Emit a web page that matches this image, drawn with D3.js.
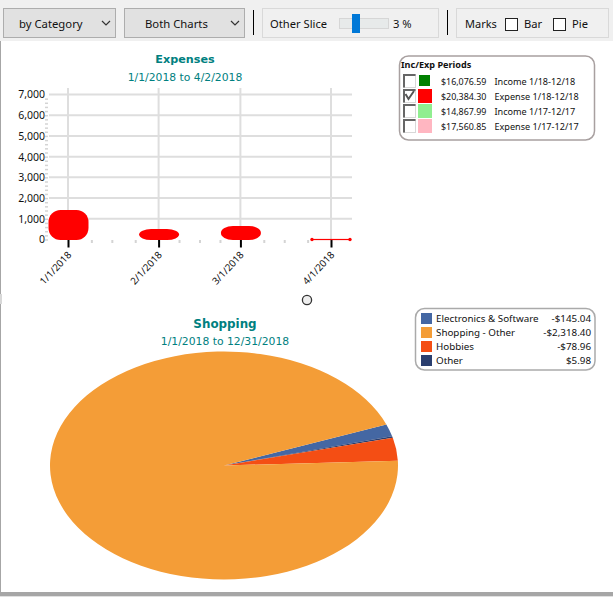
<!DOCTYPE html>
<html>
<head>
<meta charset="utf-8">
<script src="https://cdn.jsdelivr.net/npm/d3@7"></script>
<style>
  html, body { margin: 0; padding: 0; background: #fff; overflow: hidden; }
  svg { display: block; }
  text { font-family: "Noto Sans", sans-serif; fill: #111; }
  .title { font-family: "DejaVu Sans", sans-serif; fill: #008080; text-anchor: middle; }
</style>
</head>
<body>
<svg id="chart" width="613" height="597"></svg>
<script>
// bar chart
const barDates = ["2018-01-01", "2018-02-01", "2018-03-01", "2018-04-01"];
const barLabels = ["1/1/2018", "2/1/2018", "3/1/2018", "4/1/2018"];
const barValues = [1425, 505, 650, 25];
const yTicks = [0, 1000, 2000, 3000, 4000, 5000, 6000, 7000];
const xMinorDates = ["2018-01-09", "2018-01-16", "2018-01-24", "2018-02-08", "2018-02-15", "2018-02-22",
                     "2018-03-09", "2018-03-16", "2018-03-24"];

// pie, the slice sizes are what the picture shows, the amounts are the legend text
const categories = ["Electronics & Software", "Shopping - Other", "Hobbies", "Other"];
const categoryAmounts = ["-$145.04", "-$2,318.40", "-$78.96", "$5.98"];
const categoryColors = ["#4467a3", "#f49d37", "#f44e14", "#2a3e6e"];
const sliceValues = [42, 2318.4, 78.96, 5.98];
const sliceOrder = [0, 3, 2, 1];

// periods legend
const periodAmounts = ["$16,076.59", "$20,384.30", "$14,867.99", "$17,560.85"];
const periodLabels = ["Income 1/18-12/18", "Expense 1/18-12/18", "Income 1/17-12/17", "Expense 1/17-12/17"];
const periodColors = ["green", "red", "lightgreen", "lightpink"];
const periodChecked = [false, true, false, false];

const svg = d3.select("#chart");
const parseDay = d3.timeParse("%Y-%m-%d");

// fenster und toolbar
svg.append("rect").attr("x", 0).attr("y", 0).attr("width", 613).attr("height", 41).attr("fill", "#f0f0f0");
svg.append("rect").attr("x", 0).attr("y", 41).attr("width", 1).attr("height", 551).attr("fill", "#a6a6a6");
svg.append("rect").attr("x", 0).attr("y", 592).attr("width", 613).attr("height", 4).attr("fill", "#a6a6a6");
svg.append("rect").attr("x", 0).attr("y", 596).attr("width", 613).attr("height", 1).attr("fill", "#e0e0e0");

function combo(x, w, label, textX) {
  svg.append("rect").attr("x", x + 0.5).attr("y", 8.5).attr("width", w).attr("height", 29)
    .attr("fill", "#e1e1e1").attr("stroke", "#adadad");
  svg.append("text").attr("x", textX).attr("y", 28).attr("font-size", 11.3).text(label);
  const cx = x + w - 9;
  svg.append("path").attr("d", `M${cx - 4},21 L${cx},25 L${cx + 4},21`)
    .attr("fill", "none").attr("stroke", "#333").attr("stroke-width", 1.2);
}
function panel(x, w) {
  svg.append("rect").attr("x", x + 0.5).attr("y", 8.5).attr("width", w).attr("height", 29)
    .attr("fill", "#f0f0f0").attr("stroke", "#d9d9d9");
}
function separator(x) {
  svg.append("line").attr("x1", x).attr("x2", x).attr("y1", 10).attr("y2", 35).attr("stroke", "#000");
}
function checkbox(x, label, textX) {
  svg.append("rect").attr("x", x + 0.5).attr("y", 18.5).attr("width", 12).attr("height", 12)
    .attr("fill", "#fff").attr("stroke", "#222");
  svg.append("text").attr("x", textX).attr("y", 28).attr("font-size", 11.2).text(label);
}
combo(3, 112, "by Category", 19);
combo(124, 120, "Both Charts", 145);
separator(253.5);
panel(262, 176);
svg.append("text").attr("x", 270).attr("y", 28).attr("font-size", 11.2).text("Other Slice");
svg.append("rect").attr("x", 339.5).attr("y", 18.5).attr("width", 49).attr("height", 10)
  .attr("fill", "#e7eaea").attr("stroke", "#d6d6d6");
svg.append("rect").attr("x", 352).attr("y", 14).attr("width", 8).attr("height", 19).attr("fill", "#0078d7");
svg.append("text").attr("x", 393).attr("y", 28).attr("font-size", 11.2).text("3 %");
separator(447.5);
panel(456, 152);
svg.append("text").attr("x", 465).attr("y", 28).attr("font-size", 11).text("Marks");
checkbox(505, "Bar", 524);
checkbox(553, "Pie", 572);

// balkendiagramm
const x = d3.scaleTime().domain([parseDay(barDates[0]), parseDay(barDates[3])]).range([68, 331]);
const y = d3.scaleLinear().domain([0, 7000]).range([239.5, 94.5]);

svg.append("text").attr("class", "title").attr("x", 185).attr("y", 63)
  .attr("font-size", 11.2).attr("font-weight", "bold").text("Expenses");
svg.append("text").attr("class", "title").attr("x", 185).attr("y", 81)
  .attr("font-size", 10.8).text("1/1/2018 to 4/2/2018");

// gitter
svg.append("g").selectAll("line").data(yTicks.slice(1)).join("line")
  .attr("x1", 49).attr("x2", 352)
  .attr("y1", d => y(d)).attr("y2", d => y(d))
  .attr("stroke", "#dedede").attr("stroke-width", 2);
svg.append("g").selectAll("line").data(barDates).join("line")
  .attr("x1", d => x(parseDay(d))).attr("x2", d => x(parseDay(d)))
  .attr("y1", 88).attr("y2", 240)
  .attr("stroke", "#dedede").attr("stroke-width", 2);

// y achse, kleine striche und beschriftung
const yMinor = d3.axisLeft(y).tickValues(d3.range(0, 7000, 200)).tickSize(3).tickFormat("");
const yMinorG = svg.append("g").attr("transform", "translate(48,0)").call(yMinor);
yMinorG.select(".domain").remove();
yMinorG.selectAll("line").attr("stroke", "#d4d4d4").attr("stroke-width", 1.5);

const yAxis = d3.axisLeft(y).tickValues(yTicks).tickSize(0).tickPadding(0).tickFormat(d3.format(","));
const yG = svg.append("g").attr("transform", "translate(45,0)").call(yAxis);
yG.select(".domain").remove();
yG.selectAll("text").attr("font-family", "Noto Sans").attr("font-size", 10.5).attr("fill", "#111");

// x achse
const xMinor = d3.axisBottom(x).tickValues(xMinorDates.map(parseDay)).tickSize(3).tickFormat("");
const xMinorG = svg.append("g").attr("transform", "translate(0,240)").call(xMinor);
xMinorG.select(".domain").remove();
xMinorG.selectAll("line").attr("stroke", "#d4d4d4").attr("stroke-width", 2);

const xAxis = d3.axisBottom(x).tickValues(barDates.map(parseDay)).tickSize(7.5)
  .tickFormat((d, i) => barLabels[i]);
const xG = svg.append("g").attr("transform", "translate(0,240)").call(xAxis);
xG.select(".domain").remove();
xG.selectAll("line").attr("stroke", "#000").attr("stroke-width", 2);
xG.selectAll("text")
  .attr("font-family", "Noto Sans").attr("font-size", 9.8).attr("fill", "#111")
  .attr("text-anchor", "end")
  .attr("transform", "translate(1,13) rotate(-47)")
  .attr("y", 0).attr("dy", "0.35em");

// balken
const bars = barDates.map((d, i) => ({ date: parseDay(d), value: barValues[i] }));
const barHeight = d => y(0) + 0.5 - y(d.value);
svg.append("g").selectAll("rect").data(bars).join("rect")
  .attr("x", d => x(d.date) - 19.5).attr("width", 40)
  .attr("y", d => y(d.value)).attr("height", barHeight)
  .attr("rx", 12).attr("ry", d => Math.min(12, barHeight(d) / 2))
  .attr("fill", "red");
// der fast leere balken ist nur eine linie mit punkten an den enden
const tinyBars = bars.filter(d => d.value < 100);
svg.append("g").selectAll("rect").data(tinyBars).join("rect")
  .attr("x", d => x(d.date) - 19).attr("width", 38)
  .attr("y", y(0) - 0.6).attr("height", 1.2).attr("fill", "red");
svg.append("g").selectAll("circle").data(tinyBars.flatMap(d => [x(d.date) - 19, x(d.date) + 19])).join("circle")
  .attr("cx", d => d).attr("cy", y(0)).attr("r", 1.7).attr("fill", "red");

// legende perioden
svg.append("rect").attr("x", 399.5).attr("y", 56).attr("width", 195).attr("height", 84).attr("rx", 9)
  .attr("fill", "#fff").attr("stroke", "#a8a0a0").attr("stroke-width", 1.5);
svg.append("text").attr("x", 401).attr("y", 68).attr("font-size", 9.1).attr("font-weight", "bold")
  .text("Inc/Exp Periods");
const periodRow = svg.append("g").selectAll("g").data(periodLabels).join("g")
  .attr("transform", (d, i) => `translate(0,${81 + i * 15})`);
periodRow.append("rect").attr("x", 403.5).attr("y", -6.5).attr("width", 12).attr("height", 13)
  .attr("fill", "#fff").attr("stroke", "#d8d8d8");
periodRow.append("path").attr("d", "M404,6.5 V-6 H415.5")
  .attr("fill", "none").attr("stroke", "#666").attr("stroke-width", 2);
periodRow.filter((d, i) => periodChecked[i]).append("path").attr("d", "M405.5,-2 L408.5,3 L414,-5")
  .attr("fill", "none").attr("stroke", "#555").attr("stroke-width", 2);
periodRow.append("rect").attr("x", (d, i) => i === 0 ? 419 : 418).attr("y", (d, i) => i === 0 ? -6 : -7)
  .attr("width", (d, i) => i === 0 ? 11 : 14).attr("height", (d, i) => i === 0 ? 11 : 14)
  .attr("fill", (d, i) => periodColors[i]);
periodRow.append("text").attr("x", 441).attr("y", 3.5).attr("font-size", 8.9).text((d, i) => periodAmounts[i]);
periodRow.append("text").attr("x", 494.5).attr("y", 3.5).attr("font-size", 9.1).text(d => d);

// griff zwischen den diagrammen
svg.append("circle").attr("cx", 307).attr("cy", 300).attr("r", 4.6)
  .attr("fill", "#eee").attr("stroke", "#333").attr("stroke-width", 1.3);
svg.append("rect").attr("x", 0).attr("y", 294).attr("width", 2).attr("height", 10).attr("fill", "#d8d8d8");

// kuchen
svg.append("text").attr("class", "title").attr("x", 225).attr("y", 328)
  .attr("font-size", 11.9).attr("font-weight", "bold").text("Shopping");
svg.append("text").attr("class", "title").attr("x", 225).attr("y", 345)
  .attr("font-size", 10.8).text("1/1/2018 to 12/31/2018");

const pieStart = 68.9 * Math.PI / 180;
const pie = d3.pie().sort(null).startAngle(pieStart).endAngle(pieStart + 2 * Math.PI);
const slices = pie(sliceOrder.map(i => sliceValues[i]));
const arc = d3.arc().innerRadius(0).outerRadius(174);
svg.append("g").attr("transform", "translate(224,465.5) scale(1,0.655)")
  .selectAll("path").data(slices).join("path")
  .attr("d", arc)
  .attr("fill", (d, i) => categoryColors[sliceOrder[i]]);

// legende kategorien
svg.append("rect").attr("x", 415.5).attr("y", 308.5).attr("width", 179.5).attr("height", 61.5).attr("rx", 9)
  .attr("fill", "#fff").attr("stroke", "#aaa").attr("stroke-width", 1.5);
const catRow = svg.append("g").selectAll("g").data(categories).join("g")
  .attr("transform", (d, i) => `translate(0,${318.5 + i * 14})`);
catRow.append("rect").attr("x", 421).attr("y", -5.5).attr("width", 11).attr("height", 11)
  .attr("fill", (d, i) => categoryColors[i]);
catRow.append("text").attr("x", 436).attr("y", 3.5).attr("font-size", 9.8).text(d => d);
catRow.append("text").attr("x", 591).attr("y", 3.5).attr("font-size", 9.8).attr("text-anchor", "end")
  .text((d, i) => categoryAmounts[i]);
</script>
</body>
</html>
